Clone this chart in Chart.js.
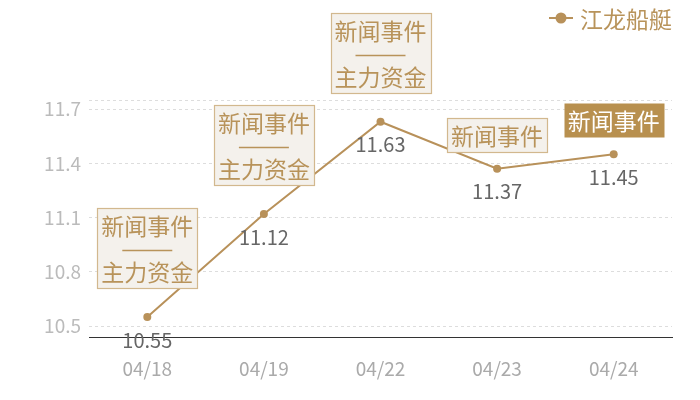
<!DOCTYPE html>
<html>
<head>
<meta charset="utf-8">
<script src="https://cdn.jsdelivr.net/npm/chart.js@4/dist/chart.umd.min.js"></script>
<style>
html,body{margin:0;padding:0;background:#fff;}
#wrap{width:700px;height:400px;position:relative;}
</style>
</head>
<body>
<div id="wrap"><canvas id="c"></canvas></div>
<script>
const categories = ['04/18', '04/19', '04/22', '04/23', '04/24'];
const prices = [10.55, 11.12, 11.63, 11.37, 11.45];
const yTicks = [10.5, 10.8, 11.1, 11.4, 11.7];
const seriesName = '江龙船艇';
const noteTexts = [
  ['新闻事件', '——', '主力资金'],
  ['新闻事件', '——', '主力资金'],
  ['新闻事件', '——', '主力资金'],
  ['新闻事件'],
  ['新闻事件']
];
const noteKinds = ['outline', 'outline', 'outline', 'outline', 'filled'];

const FONT = "'Noto Sans CJK SC', 'Noto Sans', sans-serif";
const GOLD = '#b8915a';
const yMin = 10.44, yMax = 11.75;

const overlay = {
  id: 'overlay',
  afterDatasetsDraw(chart) {
    const ctx = chart.ctx;
    const meta = chart.getDatasetMeta(0);
    ctx.save();
    meta.data.forEach((pt, i) => {
      const x = pt.x, y = pt.y;
      const lines = noteTexts[i];
      const filled = noteKinds[i] === 'filled';
      const w = 100;
      let h, bottom;
      if (lines.length > 1) { h = 80; bottom = y - 29; }
      else { h = 34; bottom = y - 17; }
      const left = Math.round(x - w / 2) + 0.5;
      const top = Math.round(bottom - h) + 0.5;
      if (filled) {
        ctx.fillStyle = '#b8904f';
        ctx.fillRect(left, top, w, h);
      } else {
        ctx.fillStyle = '#f4f1ec';
        ctx.fillRect(left, top, w, h);
        ctx.strokeStyle = '#d2b88e';
        ctx.lineWidth = 1.2;
        ctx.strokeRect(left, top, w, h);
      }
      const tc = filled ? '#ffffff' : '#b8935a';
      ctx.fillStyle = tc;
      ctx.font = '23px ' + FONT;
      ctx.textAlign = 'center';
      ctx.textBaseline = 'middle';
      if (lines.length > 1) {
        const offs = [18, 42, 64];
        lines.forEach((t, k) => {
          if (/^—+$/.test(t)) {
            ctx.strokeStyle = tc;
            ctx.lineWidth = 1.5;
            ctx.beginPath();
            ctx.moveTo(x - 25, top + offs[k]);
            ctx.lineTo(x + 25, top + offs[k]);
            ctx.stroke();
          } else {
            ctx.fillText(t, x, top + offs[k]);
          }
        });
      } else {
        ctx.fillText(lines[0], x, top + h / 2 + 1);
      }
      // value label
      ctx.fillStyle = '#666666';
      ctx.font = '20px ' + FONT;
      ctx.fillText(String(prices[i].toFixed(2)), x, y + 23);
    });
    // legend
    const ly = 18;
    ctx.strokeStyle = GOLD;
    ctx.lineWidth = 2;
    ctx.beginPath();
    ctx.moveTo(549, ly); ctx.lineTo(573, ly); ctx.stroke();
    ctx.fillStyle = GOLD;
    ctx.beginPath(); ctx.arc(561, ly, 5.5, 0, Math.PI * 2); ctx.fill();
    ctx.fillStyle = '#b8935a';
    ctx.font = '23px ' + FONT;
    ctx.textAlign = 'left';
    ctx.textBaseline = 'middle';
    ctx.fillText(chart.data.datasets[0].label, 580, ly + 1);
    ctx.restore();
  }
};

new Chart(document.getElementById('c'), {
  type: 'line',
  data: {
    labels: categories,
    datasets: [{
      label: seriesName,
      data: prices,
      borderColor: GOLD,
      backgroundColor: GOLD,
      borderWidth: 2,
      pointRadius: 4,
      pointHoverRadius: 4,
      pointBackgroundColor: GOLD,
      pointBorderWidth: 0,
      tension: 0
    }]
  },
  options: {
    responsive: true,
    maintainAspectRatio: false,
    animation: false,
    layout: { padding: { top: 100, right: 28, left: 0, bottom: 0 } },
    plugins: { legend: { display: false }, tooltip: { enabled: false } },
    scales: {
      x: {
        offset: true,
        grid: { display: false, drawTicks: false },
        border: { display: true, color: '#333333', width: 1 },
        ticks: { color: '#aaaaaa', font: { family: FONT, size: 19 }, padding: 20 },
        afterFit(s) { s.height = 63; }
      },
      y: {
        min: yMin,
        max: yMax,
        afterBuildTicks(s) {
          s.ticks = yTicks.map(v => ({ value: v })).concat([{ value: yMax }]);
        },
        grid: { color: '#dddddd', drawTicks: false, lineWidth: 1 },
        border: { display: false, dash: [3, 3] },
        ticks: {
          color: '#bbbbbb',
          font: { family: FONT, size: 19 },
          padding: 8,
          callback: (v) => (v === yMax ? '' : v.toFixed(1))
        },
        afterFit(s) { s.width = 89; }
      }
    }
  },
  plugins: [overlay]
});
</script>
</body>
</html>
